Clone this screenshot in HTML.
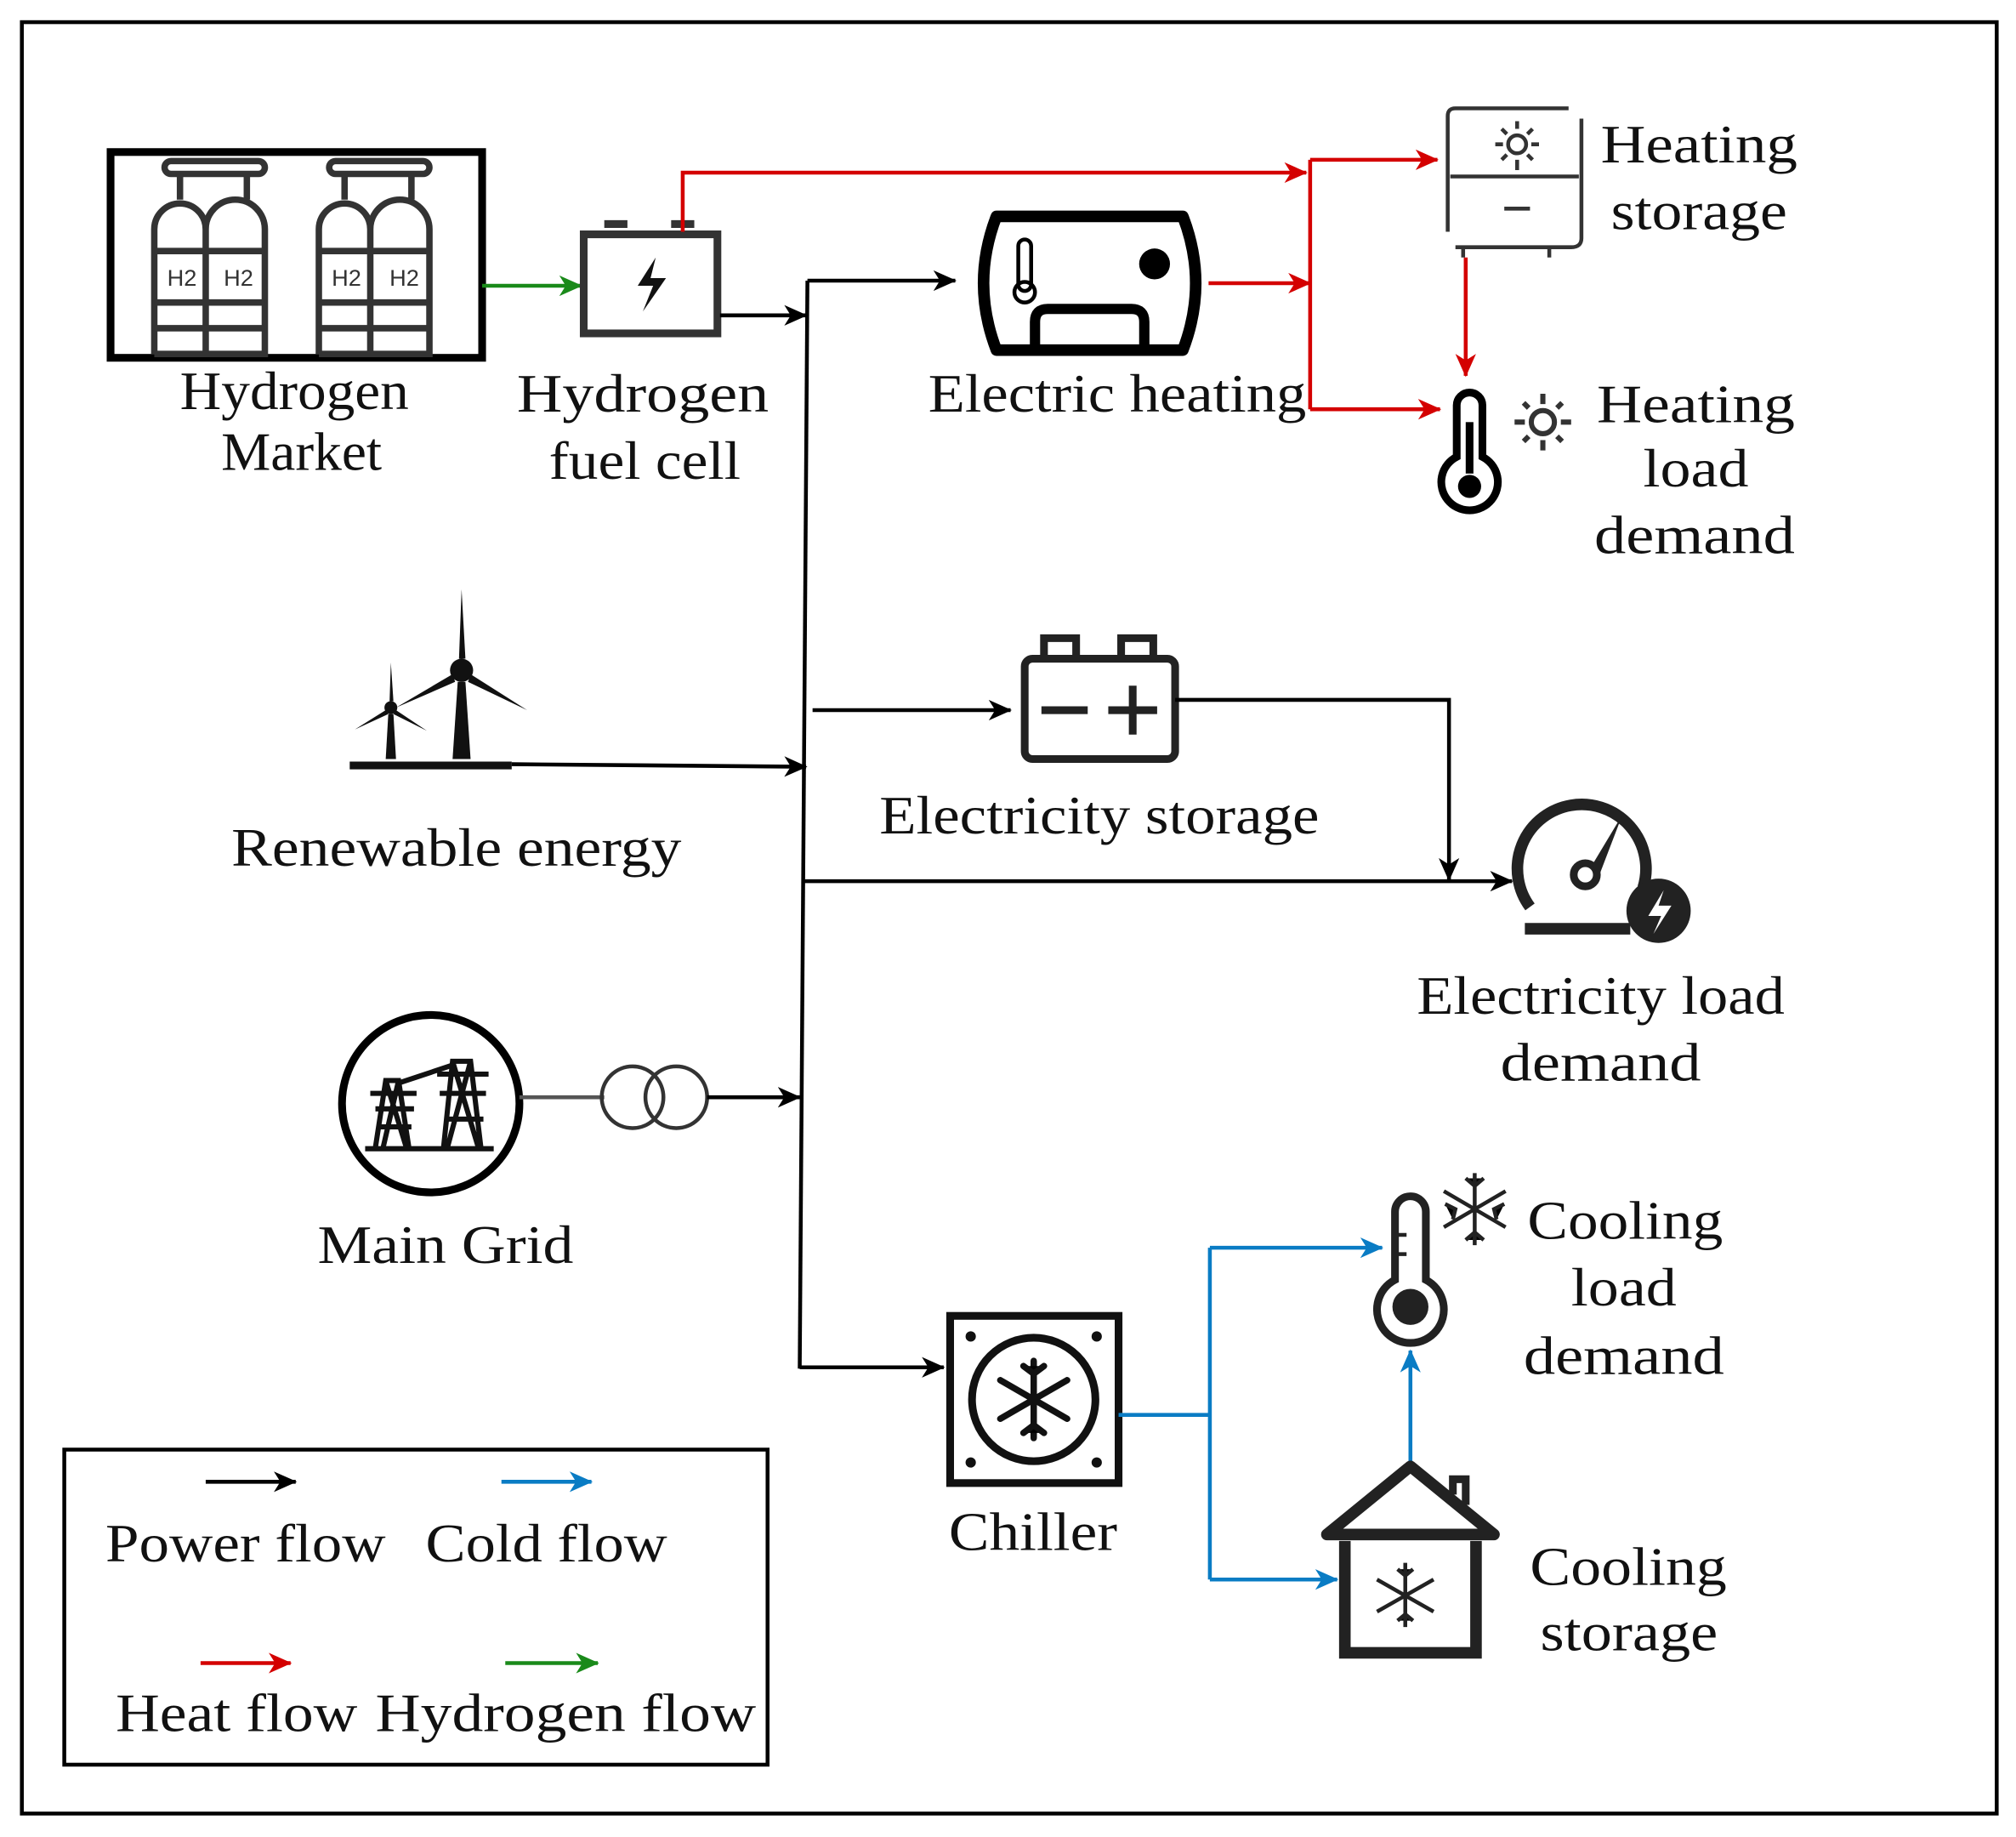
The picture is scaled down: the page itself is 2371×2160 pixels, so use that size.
<!DOCTYPE html>
<html><head><meta charset="utf-8"><style>
html,body{margin:0;padding:0;background:#fff}
svg{display:block}
text{font-family:"Liberation Serif",serif;font-size:42px;fill:#111}
</style></head><body>
<svg width="2371" height="2160" viewBox="0 0 1568 1428" xmlns="http://www.w3.org/2000/svg">
<defs>
<marker id="ar" markerWidth="18" markerHeight="16" refX="17" refY="8" orient="auto" markerUnits="userSpaceOnUse"><path d="M0,0 L18,8 L0,16 L5,8z" fill="#d40000"/></marker>
<marker id="ab" markerWidth="18" markerHeight="16" refX="17" refY="8" orient="auto" markerUnits="userSpaceOnUse"><path d="M0,0 L18,8 L0,16 L5,8z" fill="#0a7cc4"/></marker>
<marker id="ag" markerWidth="18" markerHeight="16" refX="17" refY="8" orient="auto" markerUnits="userSpaceOnUse"><path d="M0,0 L18,8 L0,16 L5,8z" fill="#1a8a1a"/></marker>
<marker id="ak2" markerWidth="18" markerHeight="16" refX="17" refY="8" orient="auto" markerUnits="userSpaceOnUse"><path d="M0,0 L18,8 L0,16 L5,8z" fill="#000"/></marker>
</defs>
<rect x="17" y="17" width="1536" height="1393" fill="none" stroke="#000" stroke-width="3"/>

<!-- Hydrogen market -->
<rect x="86" y="118" width="289" height="160" fill="none" stroke="#000" stroke-width="6"/>
<g fill="none" stroke="#333" stroke-width="5">
 <g id="cyl">
  <rect x="128" y="125" width="78" height="10" rx="5"/>
  <path d="M140,135v20M192,135v20"/>
  <path d="M120,275V178a20,20 0 0 1 40,0V275M160,178a22,22 0 0 1 46,0V275H120"/>
  <path d="M120,195h86M120,235h86M120,255h86"/>
 </g>
 <use href="#cyl" transform="translate(128,0)"/>
</g>
<text x="130" y="222" style="font-family:'Liberation Sans',sans-serif;font-size:18px;fill:#333">H2</text>
<text x="174" y="222" style="font-family:'Liberation Sans',sans-serif;font-size:18px;fill:#333">H2</text>
<text x="258" y="222" style="font-family:'Liberation Sans',sans-serif;font-size:18px;fill:#333">H2</text>
<text x="303" y="222" style="font-family:'Liberation Sans',sans-serif;font-size:18px;fill:#333">H2</text>
<text x="140" y="318" textLength="178" lengthAdjust="spacingAndGlyphs">Hydrogen</text>
<text x="172" y="365" textLength="125" lengthAdjust="spacingAndGlyphs">Market</text>

<line x1="375" y1="222" x2="452" y2="222" stroke="#1a8a1a" stroke-width="3" marker-end="url(#ag)"/>

<!-- fuel cell -->
<rect x="454" y="182" width="104" height="77" fill="none" stroke="#333" stroke-width="6"/>
<path d="M470,174h18M522,174h18" stroke="#333" stroke-width="6"/>
<path d="M510,200 L496,222 L508,222 L500,242 L518,216 L506,216z" fill="#111"/>
<text x="402" y="320" textLength="196" lengthAdjust="spacingAndGlyphs">Hydrogen</text>
<text x="427" y="372" textLength="149" lengthAdjust="spacingAndGlyphs">fuel cell</text>
<line x1="560" y1="245" x2="627" y2="245" stroke="#000" stroke-width="3" marker-end="url(#ak2)"/>

<!-- red lines -->
<polyline points="531,180 531,134 1016,134" fill="none" stroke="#d40000" stroke-width="3" marker-end="url(#ar)"/>
<line x1="1019" y1="124" x2="1019" y2="318" stroke="#d40000" stroke-width="3"/>
<line x1="1019" y1="124" x2="1118" y2="124" stroke="#d40000" stroke-width="3" marker-end="url(#ar)"/>
<line x1="940" y1="220" x2="1019" y2="220" stroke="#d40000" stroke-width="3" marker-end="url(#ar)"/>
<line x1="1019" y1="318" x2="1120" y2="318" stroke="#d40000" stroke-width="3" marker-end="url(#ar)"/>
<line x1="1140" y1="200" x2="1140" y2="292" stroke="#d40000" stroke-width="3" marker-end="url(#ar)"/>

<!-- electric heating -->
<path d="M775,168 H920 Q940,220 920,272 H775 Q755,220 775,168z" fill="none" stroke="#000" stroke-width="9" stroke-linejoin="round"/>
<path d="M805,268 V250 Q805,240 815,240 H880 Q890,240 890,250 V268" fill="none" stroke="#000" stroke-width="8"/>
<circle cx="898" cy="205" r="12" fill="#000"/>
<rect x="792" y="186" width="10" height="40" rx="5" fill="none" stroke="#000" stroke-width="3"/>
<circle cx="797" cy="227" r="8" fill="none" stroke="#000" stroke-width="3"/>
<text x="722" y="320" textLength="294" lengthAdjust="spacingAndGlyphs">Electric heating</text>

<!-- heating storage -->
<g fill="none" stroke="#333" stroke-width="3">
<path d="M1126,180 V90 Q1126,84 1132,84 H1220"/>
<path d="M1230,92 V185 Q1230,192 1222,192 H1132"/>
<line x1="1128" y1="137" x2="1228" y2="137"/>
<line x1="1170" y1="162" x2="1190" y2="162"/>
<path d="M1138,192v8M1205,192v8"/>
<circle cx="1180" cy="112" r="7"/>
<path d="M1180,94v6M1180,124v8M1163,112h6M1191,112h6M1168,100l4,4M1192,100l-4,4M1168,124l4,-4M1192,124l-4,-4"/>
</g>
<text x="1245" y="126" textLength="153" lengthAdjust="spacingAndGlyphs">Heating</text>
<text x="1253" y="178" textLength="137" lengthAdjust="spacingAndGlyphs">storage</text>

<!-- thermometer heating -->
<path d="M1133,355 V315 a10,10 0 0 1 20,0 V355 a22,22 0 1 1 -20,0z" fill="none" stroke="#000" stroke-width="6"/>
<rect x="1140" y="328" width="6" height="40" fill="#000"/>
<circle cx="1143" cy="378" r="9" fill="#000"/>
<g fill="none" stroke="#333" stroke-width="4">
<circle cx="1200" cy="328" r="9"/>
<path d="M1200,306v8M1200,342v8M1178,328h8M1214,328h8M1185,313l4,4M1215,313l-4,4M1185,343l4,-4M1215,343l-4,-4"/>
</g>
<text x="1242" y="328" textLength="154" lengthAdjust="spacingAndGlyphs">Heating</text>
<text x="1278" y="378" textLength="82" lengthAdjust="spacingAndGlyphs">load</text>
<text x="1240" y="430" textLength="156" lengthAdjust="spacingAndGlyphs">demand</text>

<!-- bus -->
<line x1="628" y1="218" x2="622" y2="1064" stroke="#000" stroke-width="3"/>
<line x1="628" y1="218" x2="743" y2="218" stroke="#000" stroke-width="3" marker-end="url(#ak2)"/>

<!-- wind -->
<g fill="#111">
<line x1="272" y1="595" x2="398" y2="595" stroke="#111" stroke-width="6"/>
<path d="M352,590 L356,530 L362,530 L366,590z"/>
<circle cx="359" cy="521" r="9"/>
<path d="M357,512 L359,458 L362,512z"/>
<path d="M366,524 L410,552 L364,530z"/>
<path d="M352,524 L308,550 L354,530z"/>
<path d="M300,590 L302,555 L306,555 L308,590z"/>
<circle cx="304" cy="550" r="5"/>
<path d="M303,545 L304,515 L306,545z"/>
<path d="M308,552 L332,568 L306,555z"/>
<path d="M300,552 L276,567 L302,555z"/>
</g>
<line x1="398" y1="594" x2="627" y2="596" stroke="#000" stroke-width="3" marker-end="url(#ak2)"/>
<text x="180" y="673" textLength="350" lengthAdjust="spacingAndGlyphs">Renewable energy</text>

<!-- battery -->
<line x1="632" y1="552" x2="786" y2="552" stroke="#000" stroke-width="3" marker-end="url(#ak2)"/>
<rect x="797" y="512" width="117" height="78" rx="6" fill="none" stroke="#222" stroke-width="6"/>
<path d="M812,512 V496 H837 V512M872,512 V496 H897 V512" fill="none" stroke="#222" stroke-width="6"/>
<path d="M810,552h36M862,552h38M881,533v38" stroke="#222" stroke-width="6"/>
<text x="684" y="648" textLength="342" lengthAdjust="spacingAndGlyphs">Electricity storage</text>
<polyline points="914,544 1127,544 1127,684" fill="none" stroke="#000" stroke-width="3" marker-end="url(#ak2)"/>
<line x1="624" y1="685" x2="1176" y2="685" stroke="#000" stroke-width="3" marker-end="url(#ak2)"/>

<!-- gauge -->
<path d="M1190,705 A50,50 0 1 1 1278,690" fill="none" stroke="#222" stroke-width="9"/>
<line x1="1186" y1="722" x2="1268" y2="722" stroke="#222" stroke-width="9"/>
<circle cx="1233" cy="680" r="9" fill="none" stroke="#222" stroke-width="6"/>
<path d="M1238,673 L1262,633 L1244,680z" fill="#222"/>
<circle cx="1290" cy="708" r="25" fill="#222"/>
<path d="M1294,692 L1282,712 L1292,712 L1286,726 L1300,704 L1290,704z" fill="#fff"/>
<text x="1102" y="788" textLength="286" lengthAdjust="spacingAndGlyphs">Electricity load</text>
<text x="1167" y="840" textLength="156" lengthAdjust="spacingAndGlyphs">demand</text>

<!-- main grid -->
<circle cx="335" cy="858" r="69" fill="none" stroke="#000" stroke-width="6"/>
<g fill="none" stroke="#111" stroke-width="4">
<path d="M292,892 L300,840 L310,840 L318,892M288,850h36M292,862h30M296,876h24M300,840 L316,892M310,840 L298,892"/>
<path d="M345,892 L352,825 L366,825 L374,892M340,835h40M342,850h36M348,870h28M352,825 L372,892M366,825 L348,892"/>
<path d="M284,893h100M310,842 L352,828"/>
</g>
<line x1="404" y1="853" x2="470" y2="853" stroke="#555" stroke-width="3"/>
<circle cx="492" cy="853" r="24" fill="none" stroke="#333" stroke-width="3"/>
<circle cx="526" cy="853" r="24" fill="none" stroke="#333" stroke-width="3"/>
<line x1="550" y1="853" x2="622" y2="853" stroke="#000" stroke-width="3" marker-end="url(#ak2)"/>
<text x="247" y="982" textLength="199" lengthAdjust="spacingAndGlyphs">Main Grid</text>

<!-- chiller -->
<line x1="622" y1="1063" x2="734" y2="1063" stroke="#000" stroke-width="3" marker-end="url(#ak2)"/>
<rect x="739" y="1023" width="131" height="130" fill="none" stroke="#111" stroke-width="6"/>
<circle cx="804" cy="1088" r="48" fill="none" stroke="#111" stroke-width="6"/>
<g fill="#111"><circle cx="755" cy="1039" r="4"/><circle cx="853" cy="1039" r="4"/><circle cx="755" cy="1137" r="4"/><circle cx="853" cy="1137" r="4"/></g>
<g stroke="#111" stroke-width="5" stroke-linecap="round">
<path d="M804,1058v60M778,1073l52,30M778,1103l52,-30"/>
<path d="M796,1062l8,6l8,-6M796,1114l8,-6l8,6"/>
</g>
<text x="738" y="1205" textLength="131" lengthAdjust="spacingAndGlyphs">Chiller</text>

<!-- blue -->
<polyline points="870,1100 941,1100" fill="none" stroke="#0a7cc4" stroke-width="3"/>
<line x1="941" y1="970" x2="941" y2="1228" stroke="#0a7cc4" stroke-width="3"/>
<line x1="941" y1="970" x2="1075" y2="970" stroke="#0a7cc4" stroke-width="3" marker-end="url(#ab)"/>
<line x1="941" y1="1228" x2="1040" y2="1228" stroke="#0a7cc4" stroke-width="3" marker-end="url(#ab)"/>
<line x1="1097" y1="1138" x2="1097" y2="1050" stroke="#0a7cc4" stroke-width="3" marker-end="url(#ab)"/>

<!-- cooling thermometer -->
<path d="M1085,995 V942 a12,12 0 0 1 24,0 V995 a26,26 0 1 1 -24,0z" fill="none" stroke="#222" stroke-width="6"/>
<circle cx="1097" cy="1016" r="14" fill="#222"/>
<path d="M1086,960h8M1086,975h8" stroke="#222" stroke-width="3"/>
<g stroke="#222" stroke-width="3"><path d="M1147,912v56M1123,926l48,28M1123,954l48,-28M1140,916l7,6l7,-6M1140,964l7,-6l7,6M1124,936l8,4l-2,8M1170,936l-8,4l2,8"/></g>
<text x="1188" y="963" textLength="152" lengthAdjust="spacingAndGlyphs">Cooling</text>
<text x="1222" y="1015" textLength="82" lengthAdjust="spacingAndGlyphs">load</text>
<text x="1185" y="1068" textLength="156" lengthAdjust="spacingAndGlyphs">demand</text>

<!-- house -->
<path d="M1032,1193 L1097,1140 L1162,1193z" fill="none" stroke="#222" stroke-width="9" stroke-linejoin="round"/>
<path d="M1046,1198 V1285 H1148 V1198" fill="none" stroke="#222" stroke-width="9"/>
<path d="M1130,1162 V1150 H1140 V1170" fill="none" stroke="#222" stroke-width="6"/>
<g stroke="#222" stroke-width="3"><path d="M1093,1215v50M1071,1228l44,25M1071,1253l44,-25M1087,1220l6,5l6,-5M1087,1260l6,-5l6,5"/></g>
<text x="1190" y="1232" textLength="153" lengthAdjust="spacingAndGlyphs">Cooling</text>
<text x="1198" y="1283" textLength="138" lengthAdjust="spacingAndGlyphs">storage</text>

<!-- legend -->
<rect x="50" y="1127" width="547" height="245" fill="none" stroke="#000" stroke-width="3"/>
<line x1="160" y1="1152" x2="230" y2="1152" stroke="#000" stroke-width="3" marker-end="url(#ak2)"/>
<line x1="390" y1="1152" x2="460" y2="1152" stroke="#0a7cc4" stroke-width="3" marker-end="url(#ab)"/>
<line x1="156" y1="1293" x2="226" y2="1293" stroke="#d40000" stroke-width="3" marker-end="url(#ar)"/>
<line x1="393" y1="1293" x2="465" y2="1293" stroke="#1a8a1a" stroke-width="3" marker-end="url(#ag)"/>
<text x="82" y="1214" textLength="218" lengthAdjust="spacingAndGlyphs">Power flow</text>
<text x="331" y="1214" textLength="188" lengthAdjust="spacingAndGlyphs">Cold flow</text>
<text x="90" y="1346" textLength="188" lengthAdjust="spacingAndGlyphs">Heat flow</text>
<text x="292" y="1346" textLength="296" lengthAdjust="spacingAndGlyphs">Hydrogen flow</text>
</svg>
</body></html>
